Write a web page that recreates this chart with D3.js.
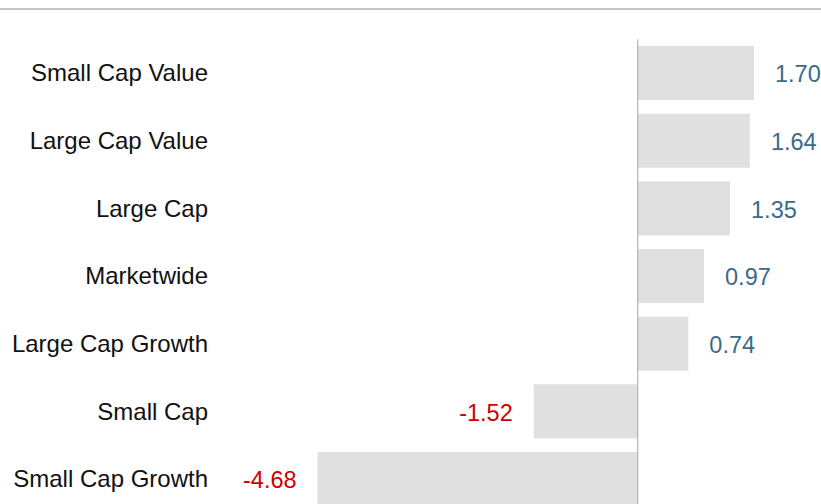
<!DOCTYPE html>
<html>
<head>
<meta charset="utf-8">
<script src="https://cdn.jsdelivr.net/npm/d3@7"></script>
<style>
  html, body { margin: 0; padding: 0; background: #fff; overflow: hidden; }
  svg { display: block; font-family: "Liberation Sans", Arial, sans-serif; }
</style>
</head>
<body>
<svg id="chart" width="821" height="504"></svg>
<script>
var categories = ['Small Cap Value', 'Large Cap Value', 'Large Cap', 'Marketwide',
  'Large Cap Growth', 'Small Cap', 'Small Cap Growth'];
var values = [1.70, 1.64, 1.35, 0.97, 0.74, -1.52, -4.68];

var svg = d3.select('#chart');
var width = 821;

// top rule
svg.append('line')
  .attr('x1', 0).attr('x2', width)
  .attr('y1', 9).attr('y2', 9)
  .attr('stroke', '#c4c4c4')
  .attr('stroke-width', 2);

var xScale = d3.scaleLinear()
  .domain([-5, 2])
  .range([295.7, 774.5]);

var yScale = d3.scaleBand()
  .domain(categories)
  .range([39.2, 512.9])
  .paddingInner(0.2)
  .paddingOuter(0.1);

var rows = categories.map((c, i) => ({ name: c, value: values[i] }));

svg.selectAll('.bar')
  .data(rows)
  .enter()
  .append('rect')
  .attr('class', 'bar')
  .attr('x', d => xScale(Math.min(0, d.value)))
  .attr('y', d => yScale(d.name))
  .attr('width', d => Math.abs(xScale(d.value) - xScale(0)))
  .attr('height', yScale.bandwidth())
  .style('fill', '#e0e0e0');

// zero axis
svg.append('line')
  .attr('x1', xScale(0)).attr('x2', xScale(0))
  .attr('y1', yScale.range()[0]).attr('y2', yScale.range()[1])
  .attr('stroke', '#b4b4b4')
  .attr('stroke-width', 1.2);

// category labels
svg.selectAll('.cat')
  .data(rows)
  .enter()
  .append('text')
  .attr('class', 'cat')
  .attr('x', 208)
  .attr('y', d => yScale(d.name) + yScale.bandwidth() / 2)
  .attr('dy', '0.35em')
  .attr('text-anchor', 'end')
  .style('font-size', '24px')
  .style('fill', '#111')
  .text(d => d.name);

// value labels
svg.selectAll('.val')
  .data(rows)
  .enter()
  .append('text')
  .attr('class', 'val')
  .attr('x', d => d.value >= 0 ? xScale(d.value) + 21 : xScale(d.value) - 21)
  .attr('y', d => yScale(d.name) + yScale.bandwidth() / 2 + 1)
  .attr('dy', '0.35em')
  .attr('text-anchor', d => d.value >= 0 ? 'start' : 'end')
  .style('font-size', '23.5px')
  .style('fill', d => d.value >= 0 ? '#3b6a8c' : '#cc0000')
  .text(d => d.value.toFixed(2));
</script>
</body>
</html>
